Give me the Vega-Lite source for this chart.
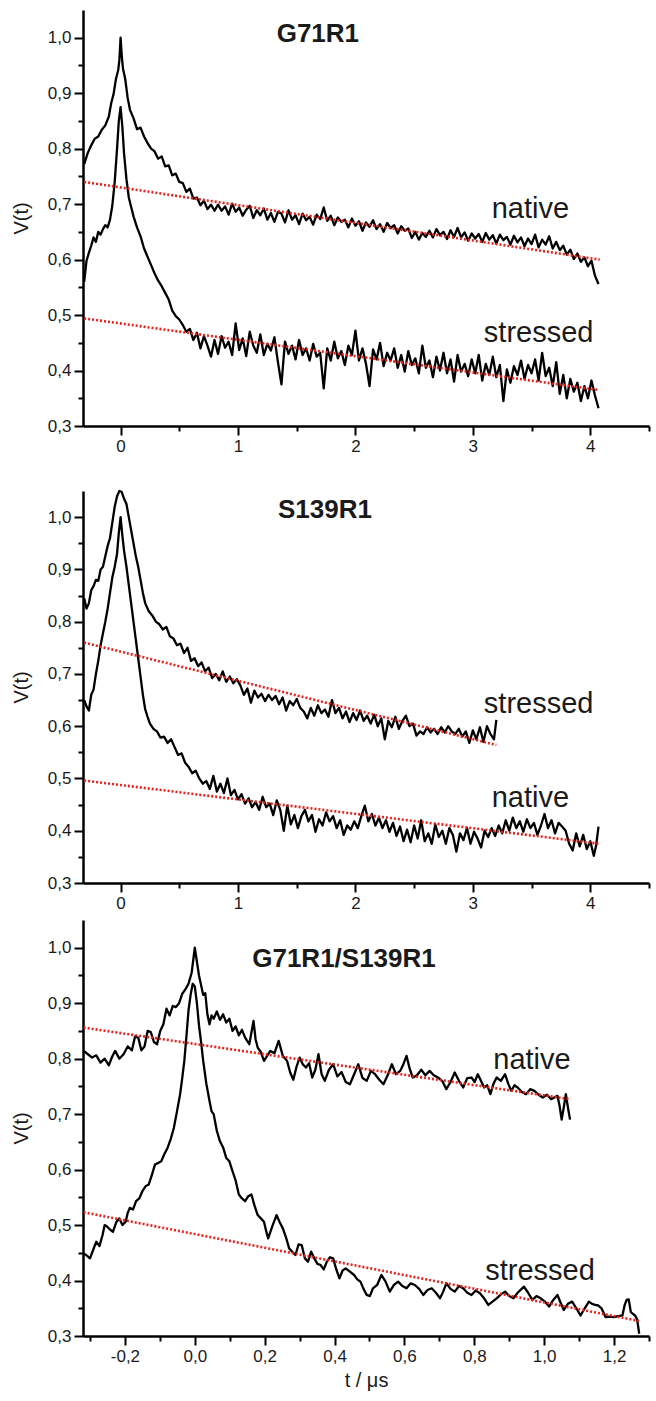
{
"$schema":"https://vega.github.io/schema/vega-lite/v6.json",
"background":"white",
"padding":{"left":11,"top":10,"right":2,"bottom":2},
"config":{
"view":{"stroke":null},
"axis":{"domainColor":"#000","domainWidth":2.5,"tickColor":"#000","tickWidth":2,"grid":false,"labelFont":"Liberation Sans","labelFontSize":17,"labelColor":"#1a1a1a","labelPadding":3,"titleFont":"Liberation Sans","titleFontSize":20,"titleFontWeight":"normal","titleColor":"#1a1a1a"},
"text":{"font":"Liberation Sans"}
},
"datasets":{
"p1n":[{"x":-0.31,"y":0.772},{"x":-0.28,"y":0.792},{"x":-0.25,"y":0.806},{"x":-0.22,"y":0.818},{"x":-0.19,"y":0.822},{"x":-0.16,"y":0.834},{"x":-0.13,"y":0.842},{"x":-0.1,"y":0.858},{"x":-0.08,"y":0.882},{"x":-0.06,"y":0.898},{"x":-0.04,"y":0.925},{"x":-0.02,"y":0.942},{"x":-0.01,"y":0.96},{"x":0,"y":1.0},{"x":0.01,"y":0.968},{"x":0.02,"y":0.945},{"x":0.04,"y":0.925},{"x":0.06,"y":0.892},{"x":0.08,"y":0.87},{"x":0.11,"y":0.855},{"x":0.14,"y":0.835},{"x":0.17,"y":0.838},{"x":0.2,"y":0.822},{"x":0.23,"y":0.81},{"x":0.26,"y":0.8},{"x":0.29,"y":0.795},{"x":0.32,"y":0.782},{"x":0.35,"y":0.786},{"x":0.38,"y":0.768},{"x":0.41,"y":0.77},{"x":0.44,"y":0.752},{"x":0.47,"y":0.755},{"x":0.5,"y":0.74},{"x":0.53,"y":0.738},{"x":0.56,"y":0.722},{"x":0.59,"y":0.728},{"x":0.62,"y":0.71},{"x":0.65,"y":0.712},{"x":0.68,"y":0.698},{"x":0.71,"y":0.706},{"x":0.74,"y":0.691},{"x":0.77,"y":0.699},{"x":0.8,"y":0.688},
{"x":0.83,"y":0.699},{"x":0.86,"y":0.688},{"x":0.89,"y":0.696},{"x":0.92,"y":0.681},{"x":0.95,"y":0.701},{"x":0.98,"y":0.686},{"x":1.01,"y":0.694},{"x":1.04,"y":0.679},{"x":1.07,"y":0.69},{"x":1.1,"y":0.697},{"x":1.13,"y":0.675},{"x":1.16,"y":0.689},{"x":1.19,"y":0.68},{"x":1.22,"y":0.692},{"x":1.25,"y":0.672},{"x":1.28,"y":0.684},{"x":1.31,"y":0.668},{"x":1.34,"y":0.686},{"x":1.37,"y":0.683},{"x":1.4,"y":0.667},{"x":1.43,"y":0.689},{"x":1.46,"y":0.672},{"x":1.49,"y":0.68},{"x":1.52,"y":0.664},{"x":1.55,"y":0.683},{"x":1.58,"y":0.671},{"x":1.61,"y":0.677},{"x":1.64,"y":0.663},{"x":1.67,"y":0.681},{"x":1.7,"y":0.673},{"x":1.73,"y":0.694},{"x":1.76,"y":0.67},{"x":1.79,"y":0.679},{"x":1.82,"y":0.662},{"x":1.85,"y":0.676},{"x":1.88,"y":0.668},{"x":1.91,"y":0.672},{"x":1.94,"y":0.658},{"x":1.97,"y":0.674},{"x":2.0,"y":0.661},{"x":2.03,"y":0.669},{"x":2.06,"y":0.652},{"x":2.09,"y":0.667},{"x":2.12,"y":0.659},{"x":2.15,"y":0.671},{"x":2.18,"y":0.655},{"x":2.21,"y":0.664},{"x":2.24,"y":0.65},{"x":2.27,"y":0.666},{"x":2.3,"y":0.657},{"x":2.33,"y":0.662},{"x":2.36,"y":0.647},{"x":2.39,"y":0.66},{"x":2.42,"y":0.652},{"x":2.45,"y":0.656},{"x":2.48,"y":0.639},{"x":2.51,"y":0.65},{"x":2.54,"y":0.636},{"x":2.57,"y":0.648},{"x":2.6,"y":0.641},{"x":2.63,"y":0.652},{"x":2.66,"y":0.64},{"x":2.69,"y":0.655},{"x":2.72,"y":0.644},{"x":2.75,"y":0.65},{"x":2.78,"y":0.637},{"x":2.81,"y":0.653},{"x":2.84,"y":0.641},{"x":2.87,"y":0.657},{"x":2.9,"y":0.64},{"x":2.93,"y":0.649},{"x":2.96,"y":0.634},{"x":2.99,"y":0.647},{"x":3.02,"y":0.638},{"x":3.05,"y":0.646},{"x":3.08,"y":0.632},{"x":3.11,"y":0.648},{"x":3.14,"y":0.636},{"x":3.17,"y":0.644},{"x":3.2,"y":0.629},{"x":3.23,"y":0.645},{"x":3.26,"y":0.635},{"x":3.29,"y":0.641},{"x":3.32,"y":0.627},{"x":3.35,"y":0.643},{"x":3.38,"y":0.631},{"x":3.41,"y":0.64},{"x":3.44,"y":0.624},{"x":3.47,"y":0.638},{"x":3.5,"y":0.628},{"x":3.53,"y":0.645},{"x":3.56,"y":0.622},{"x":3.59,"y":0.636},{"x":3.62,"y":0.627},{"x":3.65,"y":0.642},{"x":3.68,"y":0.62},{"x":3.71,"y":0.632},{"x":3.74,"y":0.617},{"x":3.77,"y":0.625},{"x":3.8,"y":0.609},{"x":3.83,"y":0.618},{"x":3.86,"y":0.601},{"x":3.89,"y":0.611},{"x":3.92,"y":0.596},{"x":3.95,"y":0.604},{"x":3.98,"y":0.588},{"x":4.01,"y":0.598},{"x":4.04,"y":0.571},{"x":4.07,"y":0.556}],
"p1s":[{"x":-0.31,"y":0.56},{"x":-0.29,"y":0.598},{"x":-0.27,"y":0.612},{"x":-0.25,"y":0.625},{"x":-0.23,"y":0.64},{"x":-0.21,"y":0.632},{"x":-0.19,"y":0.65},{"x":-0.17,"y":0.645},{"x":-0.15,"y":0.655},{"x":-0.13,"y":0.662},{"x":-0.11,"y":0.658},{"x":-0.09,"y":0.672},{"x":-0.07,"y":0.698},{"x":-0.05,"y":0.74},{"x":-0.03,"y":0.8},{"x":-0.015,"y":0.85},{"x":0,"y":0.875},{"x":0.015,"y":0.84},{"x":0.03,"y":0.79},{"x":0.05,"y":0.745},{"x":0.07,"y":0.712},{"x":0.09,"y":0.695},{"x":0.11,"y":0.678},{"x":0.14,"y":0.658},{"x":0.17,"y":0.642},{"x":0.2,"y":0.62},{"x":0.23,"y":0.605},{"x":0.26,"y":0.59},{"x":0.29,"y":0.575},{"x":0.32,"y":0.562},{"x":0.35,"y":0.552},{"x":0.38,"y":0.54},{"x":0.41,"y":0.528},{"x":0.44,"y":0.508},{"x":0.47,"y":0.498},{"x":0.5,"y":0.492},{"x":0.53,"y":0.482},{"x":0.56,"y":0.47},{"x":0.59,"y":0.475},{"x":0.62,"y":0.455},{"x":0.65,"y":0.468},{"x":0.68,"y":0.44},{"x":0.71,"y":0.462},{"x":0.74,"y":0.445},{"x":0.77,"y":0.425},{"x":0.8,"y":0.455},
{"x":0.83,"y":0.43},{"x":0.86,"y":0.462},{"x":0.89,"y":0.441},{"x":0.92,"y":0.452},{"x":0.95,"y":0.428},{"x":0.98,"y":0.485},{"x":1.01,"y":0.437},{"x":1.04,"y":0.458},{"x":1.07,"y":0.426},{"x":1.1,"y":0.47},{"x":1.13,"y":0.445},{"x":1.16,"y":0.432},{"x":1.19,"y":0.465},{"x":1.22,"y":0.428},{"x":1.25,"y":0.448},{"x":1.28,"y":0.436},{"x":1.31,"y":0.46},{"x":1.34,"y":0.415},{"x":1.37,"y":0.375},{"x":1.4,"y":0.452},{"x":1.43,"y":0.43},{"x":1.46,"y":0.445},{"x":1.49,"y":0.42},{"x":1.52,"y":0.455},{"x":1.55,"y":0.428},{"x":1.58,"y":0.44},{"x":1.61,"y":0.418},{"x":1.64,"y":0.448},{"x":1.67,"y":0.425},{"x":1.7,"y":0.432},{"x":1.73,"y":0.368},{"x":1.76,"y":0.44},{"x":1.79,"y":0.418},{"x":1.82,"y":0.452},{"x":1.85,"y":0.422},{"x":1.88,"y":0.435},{"x":1.91,"y":0.41},{"x":1.94,"y":0.445},{"x":1.97,"y":0.428},{"x":2.0,"y":0.472},{"x":2.03,"y":0.418},{"x":2.06,"y":0.44},{"x":2.09,"y":0.412},{"x":2.12,"y":0.372},{"x":2.15,"y":0.438},{"x":2.18,"y":0.42},{"x":2.21,"y":0.45},{"x":2.24,"y":0.408},{"x":2.27,"y":0.432},{"x":2.3,"y":0.418},{"x":2.33,"y":0.44},{"x":2.36,"y":0.405},{"x":2.39,"y":0.428},{"x":2.42,"y":0.398},{"x":2.45,"y":0.435},{"x":2.48,"y":0.41},{"x":2.51,"y":0.422},{"x":2.54,"y":0.395},{"x":2.57,"y":0.445},{"x":2.6,"y":0.405},{"x":2.63,"y":0.418},{"x":2.66,"y":0.388},{"x":2.69,"y":0.425},{"x":2.72,"y":0.4},{"x":2.75,"y":0.432},{"x":2.78,"y":0.395},{"x":2.81,"y":0.42},{"x":2.84,"y":0.38},{"x":2.87,"y":0.428},{"x":2.9,"y":0.398},{"x":2.93,"y":0.412},{"x":2.96,"y":0.39},{"x":2.99,"y":0.42},{"x":3.02,"y":0.395},{"x":3.05,"y":0.428},{"x":3.08,"y":0.382},{"x":3.11,"y":0.412},{"x":3.14,"y":0.392},{"x":3.17,"y":0.425},{"x":3.2,"y":0.388},{"x":3.23,"y":0.41},{"x":3.26,"y":0.345},{"x":3.29,"y":0.402},{"x":3.32,"y":0.378},{"x":3.35,"y":0.408},{"x":3.38,"y":0.392},{"x":3.41,"y":0.418},{"x":3.44,"y":0.385},{"x":3.47,"y":0.41},{"x":3.5,"y":0.395},{"x":3.53,"y":0.42},{"x":3.56,"y":0.382},{"x":3.59,"y":0.432},{"x":3.62,"y":0.39},{"x":3.65,"y":0.405},{"x":3.68,"y":0.372},{"x":3.71,"y":0.415},{"x":3.74,"y":0.358},{"x":3.77,"y":0.392},{"x":3.8,"y":0.35},{"x":3.83,"y":0.385},{"x":3.86,"y":0.362},{"x":3.89,"y":0.378},{"x":3.92,"y":0.345},{"x":3.95,"y":0.372},{"x":3.98,"y":0.35},{"x":4.01,"y":0.382},{"x":4.04,"y":0.355},{"x":4.07,"y":0.332}],
"p2s":[{"x":-0.31,"y":0.845},{"x":-0.29,"y":0.825},{"x":-0.27,"y":0.835},{"x":-0.25,"y":0.86},{"x":-0.23,"y":0.868},{"x":-0.21,"y":0.88},{"x":-0.19,"y":0.878},{"x":-0.17,"y":0.9},{"x":-0.15,"y":0.905},{"x":-0.13,"y":0.925},{"x":-0.11,"y":0.945},{"x":-0.09,"y":0.96},{"x":-0.07,"y":0.99},{"x":-0.05,"y":1.02},{"x":-0.03,"y":1.04},{"x":-0.01,"y":1.05},{"x":0.01,"y":1.048},{"x":0.03,"y":1.035},{"x":0.05,"y":1.025},{"x":0.07,"y":1.0},{"x":0.09,"y":0.975},{"x":0.11,"y":0.95},{"x":0.13,"y":0.925},{"x":0.15,"y":0.905},{"x":0.17,"y":0.88},{"x":0.19,"y":0.855},{"x":0.21,"y":0.835},{"x":0.24,"y":0.82},{"x":0.27,"y":0.812},{"x":0.3,"y":0.8},{"x":0.33,"y":0.795},{"x":0.36,"y":0.785},{"x":0.39,"y":0.79},{"x":0.42,"y":0.772},{"x":0.45,"y":0.768},{"x":0.48,"y":0.755},{"x":0.51,"y":0.758},{"x":0.54,"y":0.74},{"x":0.57,"y":0.75},{"x":0.6,"y":0.725},{"x":0.63,"y":0.73},{"x":0.66,"y":0.715},{"x":0.69,"y":0.722},{"x":0.72,"y":0.705},{"x":0.75,"y":0.712},{"x":0.78,"y":0.692},{"x":0.81,"y":0.7},{"x":0.84,"y":0.688},{"x":0.87,"y":0.705},{"x":0.9,"y":0.685},{"x":0.93,"y":0.695},{"x":0.96,"y":0.682},{"x":0.99,"y":0.69},{"x":1.02,"y":0.678},{"x":1.05,"y":0.66},{"x":1.08,"y":0.672},{"x":1.11,"y":0.645},{"x":1.14,"y":0.668},{"x":1.17,"y":0.655},{"x":1.2,"y":0.662},{"x":1.23,"y":0.648},{"x":1.26,"y":0.66},{"x":1.29,"y":0.65},{"x":1.32,"y":0.658},{"x":1.35,"y":0.642},{"x":1.38,"y":0.655},{"x":1.41,"y":0.63},{"x":1.44,"y":0.648},{"x":1.47,"y":0.64},{"x":1.5,"y":0.652},{"x":1.53,"y":0.635},{"x":1.56,"y":0.628},{"x":1.59,"y":0.615},{"x":1.62,"y":0.635},{"x":1.65,"y":0.62},{"x":1.68,"y":0.64},{"x":1.71,"y":0.625},{"x":1.74,"y":0.632},{"x":1.77,"y":0.618},{"x":1.8,"y":0.65},{"x":1.83,"y":0.625},{"x":1.86,"y":0.635},{"x":1.89,"y":0.615},{"x":1.92,"y":0.628},{"x":1.95,"y":0.608},{"x":1.98,"y":0.625},{"x":2.01,"y":0.612},{"x":2.04,"y":0.63},{"x":2.07,"y":0.61},{"x":2.1,"y":0.62},{"x":2.13,"y":0.605},{"x":2.16,"y":0.622},{"x":2.19,"y":0.6},{"x":2.22,"y":0.615},{"x":2.25,"y":0.575},{"x":2.28,"y":0.61},{"x":2.31,"y":0.598},{"x":2.34,"y":0.618},{"x":2.37,"y":0.595},{"x":2.4,"y":0.61},{"x":2.43,"y":0.62},{"x":2.46,"y":0.6},{"x":2.49,"y":0.605},{"x":2.52,"y":0.582},{"x":2.55,"y":0.59},{"x":2.58,"y":0.585},{"x":2.61,"y":0.598},{"x":2.64,"y":0.588},{"x":2.67,"y":0.595},{"x":2.7,"y":0.585},{"x":2.73,"y":0.598},{"x":2.76,"y":0.588},{"x":2.79,"y":0.6},{"x":2.82,"y":0.59},{"x":2.85,"y":0.585},{"x":2.88,"y":0.595},{"x":2.91,"y":0.58},{"x":2.94,"y":0.59},{"x":2.97,"y":0.568},{"x":3.0,"y":0.592},{"x":3.03,"y":0.575},{"x":3.06,"y":0.598},{"x":3.09,"y":0.57},{"x":3.12,"y":0.6},{"x":3.15,"y":0.585},{"x":3.18,"y":0.575},{"x":3.2,"y":0.612}],
"p2n":[{"x":-0.31,"y":0.65},{"x":-0.29,"y":0.638},{"x":-0.27,"y":0.63},{"x":-0.25,"y":0.66},{"x":-0.23,"y":0.67},{"x":-0.21,"y":0.7},{"x":-0.19,"y":0.725},{"x":-0.17,"y":0.755},{"x":-0.15,"y":0.778},{"x":-0.13,"y":0.8},{"x":-0.11,"y":0.825},{"x":-0.09,"y":0.855},{"x":-0.07,"y":0.885},{"x":-0.05,"y":0.905},{"x":-0.03,"y":0.93},{"x":-0.015,"y":0.97},{"x":0,"y":1.0},{"x":0.015,"y":0.965},{"x":0.03,"y":0.935},{"x":0.05,"y":0.905},{"x":0.07,"y":0.87},{"x":0.09,"y":0.835},{"x":0.11,"y":0.8},{"x":0.13,"y":0.765},{"x":0.15,"y":0.73},{"x":0.17,"y":0.695},{"x":0.19,"y":0.66},{"x":0.21,"y":0.632},{"x":0.23,"y":0.618},{"x":0.25,"y":0.605},{"x":0.28,"y":0.595},{"x":0.31,"y":0.59},{"x":0.34,"y":0.578},{"x":0.37,"y":0.58},{"x":0.4,"y":0.568},{"x":0.43,"y":0.575},{"x":0.46,"y":0.56},{"x":0.49,"y":0.545},{"x":0.52,"y":0.548},{"x":0.55,"y":0.53},{"x":0.58,"y":0.522},{"x":0.61,"y":0.51},{"x":0.64,"y":0.515},{"x":0.67,"y":0.5},{"x":0.7,"y":0.49},{"x":0.73,"y":0.495},{"x":0.76,"y":0.48},{"x":0.79,"y":0.505},{"x":0.82,"y":0.475},{"x":0.85,"y":0.49},{"x":0.88,"y":0.472},{"x":0.91,"y":0.5},{"x":0.94,"y":0.468},{"x":0.97,"y":0.478},{"x":1.0,"y":0.46},{"x":1.03,"y":0.47},{"x":1.06,"y":0.452},{"x":1.09,"y":0.462},{"x":1.12,"y":0.445},{"x":1.15,"y":0.455},{"x":1.18,"y":0.44},{"x":1.21,"y":0.465},{"x":1.24,"y":0.445},{"x":1.27,"y":0.452},{"x":1.3,"y":0.43},{"x":1.33,"y":0.458},{"x":1.36,"y":0.44},{"x":1.39,"y":0.4},{"x":1.42,"y":0.448},{"x":1.45,"y":0.412},{"x":1.48,"y":0.43},{"x":1.51,"y":0.405},{"x":1.54,"y":0.428},{"x":1.57,"y":0.44},{"x":1.6,"y":0.418},{"x":1.63,"y":0.43},{"x":1.66,"y":0.398},{"x":1.69,"y":0.422},{"x":1.72,"y":0.41},{"x":1.75,"y":0.435},{"x":1.78,"y":0.418},{"x":1.81,"y":0.428},{"x":1.84,"y":0.405},{"x":1.87,"y":0.42},{"x":1.9,"y":0.392},{"x":1.93,"y":0.41},{"x":1.96,"y":0.402},{"x":1.99,"y":0.418},{"x":2.02,"y":0.405},{"x":2.05,"y":0.428},{"x":2.08,"y":0.448},{"x":2.11,"y":0.418},{"x":2.14,"y":0.432},{"x":2.17,"y":0.41},{"x":2.2,"y":0.425},{"x":2.23,"y":0.405},{"x":2.26,"y":0.42},{"x":2.29,"y":0.398},{"x":2.32,"y":0.415},{"x":2.35,"y":0.39},{"x":2.38,"y":0.408},{"x":2.41,"y":0.38},{"x":2.44,"y":0.402},{"x":2.47,"y":0.378},{"x":2.5,"y":0.41},{"x":2.53,"y":0.385},{"x":2.56,"y":0.42},{"x":2.59,"y":0.38},{"x":2.62,"y":0.395},{"x":2.65,"y":0.375},{"x":2.68,"y":0.412},{"x":2.71,"y":0.388},{"x":2.74,"y":0.4},{"x":2.77,"y":0.375},{"x":2.8,"y":0.405},{"x":2.83,"y":0.392},{"x":2.86,"y":0.36},{"x":2.89,"y":0.395},{"x":2.92,"y":0.382},{"x":2.95,"y":0.405},{"x":2.98,"y":0.375},{"x":3.01,"y":0.398},{"x":3.04,"y":0.385},{"x":3.07,"y":0.368},{"x":3.1,"y":0.4},{"x":3.13,"y":0.388},{"x":3.16,"y":0.405},{"x":3.19,"y":0.39},{"x":3.22,"y":0.41},{"x":3.25,"y":0.395},{"x":3.28,"y":0.42},{"x":3.31,"y":0.4},{"x":3.34,"y":0.425},{"x":3.37,"y":0.405},{"x":3.4,"y":0.418},{"x":3.43,"y":0.398},{"x":3.46,"y":0.422},{"x":3.49,"y":0.405},{"x":3.52,"y":0.415},{"x":3.55,"y":0.392},{"x":3.58,"y":0.41},{"x":3.61,"y":0.432},{"x":3.64,"y":0.405},{"x":3.67,"y":0.42},{"x":3.7,"y":0.395},{"x":3.73,"y":0.415},{"x":3.76,"y":0.408},{"x":3.79,"y":0.4},{"x":3.82,"y":0.375},{"x":3.85,"y":0.362},{"x":3.88,"y":0.395},{"x":3.91,"y":0.37},{"x":3.94,"y":0.392},{"x":3.97,"y":0.365},{"x":4.0,"y":0.38},{"x":4.03,"y":0.352},{"x":4.05,"y":0.372},{"x":4.07,"y":0.408}],
"p3n":[{"x":-0.318,"y":0.814},{"x":-0.306,"y":0.808},{"x":-0.294,"y":0.802},{"x":-0.282,"y":0.806},{"x":-0.27,"y":0.793},{"x":-0.258,"y":0.8},{"x":-0.246,"y":0.788},{"x":-0.237,"y":0.803},{"x":-0.228,"y":0.814},{"x":-0.216,"y":0.8},{"x":-0.204,"y":0.808},{"x":-0.192,"y":0.822},{"x":-0.18,"y":0.815},{"x":-0.171,"y":0.84},{"x":-0.162,"y":0.838},{"x":-0.153,"y":0.815},{"x":-0.144,"y":0.822},{"x":-0.135,"y":0.85},{"x":-0.126,"y":0.848},{"x":-0.117,"y":0.83},{"x":-0.108,"y":0.826},{"x":-0.099,"y":0.85},{"x":-0.09,"y":0.862},{"x":-0.081,"y":0.89},{"x":-0.072,"y":0.878},{"x":-0.063,"y":0.895},{"x":-0.054,"y":0.893},{"x":-0.045,"y":0.9},{"x":-0.036,"y":0.917},{"x":-0.027,"y":0.925},{"x":-0.018,"y":0.935},{"x":-0.009,"y":0.955},{"x":0,"y":1.0},{"x":0.012,"y":0.95},{"x":0.024,"y":0.915},{"x":0.03,"y":0.918},{"x":0.036,"y":0.88},{"x":0.042,"y":0.862},{"x":0.048,"y":0.878},{"x":0.054,"y":0.872},{"x":0.063,"y":0.885},{"x":0.072,"y":0.87},{"x":0.081,"y":0.88},{"x":0.09,"y":0.865},{"x":0.099,"y":0.872},{"x":0.108,"y":0.85},{"x":0.117,"y":0.858},{"x":0.126,"y":0.842},{"x":0.135,"y":0.852},{"x":0.144,"y":0.838},{"x":0.156,"y":0.826},{"x":0.168,"y":0.868},{"x":0.174,"y":0.835},{"x":0.18,"y":0.82},{"x":0.189,"y":0.812},{"x":0.198,"y":0.796},{"x":0.207,"y":0.805},{"x":0.216,"y":0.814},{"x":0.228,"y":0.81},{"x":0.24,"y":0.832},{"x":0.252,"y":0.805},{"x":0.264,"y":0.796},{"x":0.273,"y":0.775},{"x":0.282,"y":0.762},{"x":0.291,"y":0.785},{"x":0.3,"y":0.802},{"x":0.309,"y":0.79},{"x":0.318,"y":0.784},{"x":0.327,"y":0.792},{"x":0.336,"y":0.766},{"x":0.345,"y":0.78},{"x":0.354,"y":0.808},{"x":0.363,"y":0.772},{"x":0.372,"y":0.76},{"x":0.384,"y":0.78},{"x":0.396,"y":0.79},{"x":0.408,"y":0.768},{"x":0.42,"y":0.776},{"x":0.432,"y":0.758},{"x":0.444,"y":0.754},{"x":0.456,"y":0.772},{"x":0.468,"y":0.79},{"x":0.48,"y":0.765},{"x":0.492,"y":0.76},{"x":0.504,"y":0.778},{"x":0.516,"y":0.772},{"x":0.528,"y":0.762},{"x":0.54,"y":0.754},{"x":0.552,"y":0.77},{"x":0.564,"y":0.79},{"x":0.576,"y":0.772},{"x":0.588,"y":0.778},{"x":0.597,"y":0.79},{"x":0.606,"y":0.805},{"x":0.615,"y":0.782},{"x":0.624,"y":0.766},{"x":0.636,"y":0.77},{"x":0.648,"y":0.78},{"x":0.66,"y":0.77},{"x":0.672,"y":0.778},{"x":0.684,"y":0.77},{"x":0.696,"y":0.766},{"x":0.708,"y":0.76},{"x":0.72,"y":0.745},{"x":0.732,"y":0.758},{"x":0.744,"y":0.775},{"x":0.756,"y":0.76},{"x":0.768,"y":0.748},{"x":0.78,"y":0.765},{"x":0.792,"y":0.766},{"x":0.801,"y":0.758},{"x":0.81,"y":0.772},{"x":0.819,"y":0.76},{"x":0.828,"y":0.748},{"x":0.837,"y":0.752},{"x":0.846,"y":0.736},{"x":0.855,"y":0.755},{"x":0.864,"y":0.766},{"x":0.876,"y":0.76},{"x":0.888,"y":0.772},{"x":0.897,"y":0.755},{"x":0.906,"y":0.742},{"x":0.915,"y":0.752},{"x":0.924,"y":0.748},{"x":0.936,"y":0.74},{"x":0.948,"y":0.736},{"x":0.96,"y":0.745},{"x":0.972,"y":0.742},{"x":0.984,"y":0.735},{"x":0.996,"y":0.73},{"x":1.008,"y":0.735},{"x":1.02,"y":0.727},{"x":1.029,"y":0.73},{"x":1.038,"y":0.733},{"x":1.044,"y":0.715},{"x":1.05,"y":0.69},{"x":1.056,"y":0.712},{"x":1.062,"y":0.736},{"x":1.068,"y":0.712},{"x":1.074,"y":0.69}],
"p3s":[{"x":-0.318,"y":0.449},{"x":-0.309,"y":0.445},{"x":-0.3,"y":0.44},{"x":-0.291,"y":0.455},{"x":-0.282,"y":0.47},{"x":-0.273,"y":0.462},{"x":-0.264,"y":0.482},{"x":-0.258,"y":0.5},{"x":-0.252,"y":0.498},{"x":-0.243,"y":0.492},{"x":-0.234,"y":0.488},{"x":-0.225,"y":0.505},{"x":-0.216,"y":0.512},{"x":-0.207,"y":0.5},{"x":-0.198,"y":0.506},{"x":-0.192,"y":0.522},{"x":-0.186,"y":0.531},{"x":-0.177,"y":0.528},{"x":-0.168,"y":0.543},{"x":-0.159,"y":0.548},{"x":-0.15,"y":0.561},{"x":-0.141,"y":0.57},{"x":-0.132,"y":0.573},{"x":-0.123,"y":0.59},{"x":-0.114,"y":0.609},{"x":-0.105,"y":0.612},{"x":-0.096,"y":0.615},{"x":-0.087,"y":0.628},{"x":-0.078,"y":0.639},{"x":-0.069,"y":0.655},{"x":-0.06,"y":0.675},{"x":-0.051,"y":0.705},{"x":-0.042,"y":0.736},{"x":-0.036,"y":0.765},{"x":-0.03,"y":0.796},{"x":-0.024,"y":0.84},{"x":-0.018,"y":0.887},{"x":-0.012,"y":0.915},{"x":-0.006,"y":0.935},{"x":0,"y":0.93},{"x":0.006,"y":0.9},{"x":0.012,"y":0.86},{"x":0.018,"y":0.83},{"x":0.024,"y":0.796},{"x":0.033,"y":0.755},{"x":0.042,"y":0.724},{"x":0.048,"y":0.705},{"x":0.054,"y":0.7},{"x":0.063,"y":0.67},{"x":0.072,"y":0.651},{"x":0.081,"y":0.64},{"x":0.09,"y":0.621},{"x":0.099,"y":0.615},{"x":0.108,"y":0.597},{"x":0.117,"y":0.58},{"x":0.126,"y":0.555},{"x":0.135,"y":0.548},{"x":0.144,"y":0.543},{"x":0.153,"y":0.552},{"x":0.162,"y":0.555},{"x":0.171,"y":0.535},{"x":0.18,"y":0.518},{"x":0.189,"y":0.512},{"x":0.198,"y":0.506},{"x":0.204,"y":0.49},{"x":0.21,"y":0.476},{"x":0.222,"y":0.498},{"x":0.234,"y":0.518},{"x":0.243,"y":0.505},{"x":0.252,"y":0.494},{"x":0.261,"y":0.478},{"x":0.27,"y":0.458},{"x":0.279,"y":0.452},{"x":0.288,"y":0.446},{"x":0.297,"y":0.465},{"x":0.306,"y":0.464},{"x":0.315,"y":0.44},{"x":0.324,"y":0.434},{"x":0.333,"y":0.452},{"x":0.342,"y":0.44},{"x":0.351,"y":0.43},{"x":0.36,"y":0.428},{"x":0.369,"y":0.42},{"x":0.378,"y":0.434},{"x":0.387,"y":0.442},{"x":0.396,"y":0.44},{"x":0.405,"y":0.42},{"x":0.414,"y":0.404},{"x":0.423,"y":0.418},{"x":0.432,"y":0.422},{"x":0.444,"y":0.416},{"x":0.456,"y":0.41},{"x":0.465,"y":0.402},{"x":0.474,"y":0.398},{"x":0.483,"y":0.385},{"x":0.492,"y":0.374},{"x":0.501,"y":0.372},{"x":0.51,"y":0.386},{"x":0.522,"y":0.392},{"x":0.534,"y":0.41},{"x":0.546,"y":0.398},{"x":0.558,"y":0.38},{"x":0.57,"y":0.392},{"x":0.582,"y":0.398},{"x":0.594,"y":0.39},{"x":0.606,"y":0.386},{"x":0.618,"y":0.395},{"x":0.63,"y":0.392},{"x":0.642,"y":0.385},{"x":0.654,"y":0.374},{"x":0.666,"y":0.383},{"x":0.678,"y":0.386},{"x":0.69,"y":0.378},{"x":0.702,"y":0.368},{"x":0.711,"y":0.38},{"x":0.72,"y":0.395},{"x":0.732,"y":0.385},{"x":0.744,"y":0.38},{"x":0.756,"y":0.39},{"x":0.768,"y":0.386},{"x":0.78,"y":0.378},{"x":0.792,"y":0.374},{"x":0.804,"y":0.382},{"x":0.816,"y":0.377},{"x":0.828,"y":0.368},{"x":0.84,"y":0.356},{"x":0.852,"y":0.362},{"x":0.864,"y":0.368},{"x":0.876,"y":0.375},{"x":0.888,"y":0.38},{"x":0.9,"y":0.372},{"x":0.912,"y":0.368},{"x":0.924,"y":0.378},{"x":0.942,"y":0.389},{"x":0.954,"y":0.378},{"x":0.966,"y":0.365},{"x":0.978,"y":0.372},{"x":0.99,"y":0.368},{"x":1.002,"y":0.362},{"x":1.014,"y":0.353},{"x":1.026,"y":0.365},{"x":1.038,"y":0.374},{"x":1.047,"y":0.36},{"x":1.056,"y":0.347},{"x":1.068,"y":0.358},{"x":1.08,"y":0.362},{"x":1.092,"y":0.35},{"x":1.104,"y":0.337},{"x":1.116,"y":0.35},{"x":1.128,"y":0.362},{"x":1.137,"y":0.358},{"x":1.146,"y":0.356},{"x":1.155,"y":0.355},{"x":1.164,"y":0.35},{"x":1.176,"y":0.334},{"x":1.188,"y":0.335},{"x":1.2,"y":0.334},{"x":1.212,"y":0.336},{"x":1.224,"y":0.337},{"x":1.23,"y":0.355},{"x":1.236,"y":0.365},{"x":1.242,"y":0.366},{"x":1.248,"y":0.343},{"x":1.254,"y":0.34},{"x":1.26,"y":0.337},{"x":1.266,"y":0.33},{"x":1.272,"y":0.304}],
"fits":[{"panel":1,"s":"native","x":-0.31,"y":0.74},{"panel":1,"s":"native","x":4.08,"y":0.6},{"panel":1,"s":"stressed","x":-0.31,"y":0.494},{"panel":1,"s":"stressed","x":4.07,"y":0.365},{"panel":2,"s":"stressed","x":-0.31,"y":0.76},{"panel":2,"s":"stressed","x":3.2,"y":0.564},{"panel":2,"s":"native","x":-0.31,"y":0.496},{"panel":2,"s":"native","x":4.08,"y":0.375},{"panel":3,"s":"native","x":-0.318,"y":0.856},{"panel":3,"s":"native","x":1.074,"y":0.727},{"panel":3,"s":"stressed","x":-0.318,"y":0.523},{"panel":3,"s":"stressed","x":1.272,"y":0.327}],
"labels":[{"panel":1,"t":"native","x":3.49,"y":0.692},{"panel":1,"t":"stressed","x":3.56,"y":0.467},{"panel":2,"t":"stressed","x":3.56,"y":0.643},{"panel":2,"t":"native","x":3.49,"y":0.462},{"panel":3,"t":"native","x":0.965,"y":0.797},{"panel":3,"t":"stressed","x":0.988,"y":0.418}],
"titles":[{"panel":1,"t":"G71R1","x":1.68,"y":1.006},{"panel":2,"t":"S139R1","x":1.74,"y":1.013},{"panel":3,"t":"G71R1/S139R1","x":0.427,"y":0.979}]
},
"spacing":35,
"vconcat":[
{
"width":566,"height":416,
"encoding":{
"x":{"field":"x","type":"quantitative","scale":{"domain":[-0.32,4.5],"nice":false,"zero":false},"axis":{"title":null,"values":[0,0.5,1,1.5,2,2.5,3,3.5,4,4.5],"labelExpr":"datum.value % 1 == 0 ? format(datum.value,'d') : ''","tickSize":{"condition":{"test":"datum.value % 1 == 0","value":9},"value":5},"labelOverlap":false,"labelFlush":false}},
"y":{"field":"y","type":"quantitative","scale":{"domain":[0.3,1.05],"nice":false,"zero":false},"axis":{"title":"V(t)","titlePadding":16,"values":[0.3,0.35,0.4,0.45,0.5,0.55,0.6,0.65,0.7,0.75,0.8,0.85,0.9,0.95,1.0],"labelExpr":"abs(datum.value*10-round(datum.value*10))<0.01 ? replace(format(datum.value,'.1f'),'.',',') : ''","tickSize":{"condition":{"test":"abs(datum.value*10-round(datum.value*10))<0.01","value":9},"value":5},"labelOverlap":false}}
},
"layer":[
{"data":{"name":"p1n"},"mark":{"type":"line","color":"#000","strokeWidth":2.3,"strokeJoin":"round"}},
{"data":{"name":"p1s"},"mark":{"type":"line","color":"#000","strokeWidth":2.3,"strokeJoin":"round"}},
{"data":{"name":"fits"},"transform":[{"filter":{"field":"panel","equal":1}}],"mark":{"type":"line","color":"#e8221c","strokeWidth":2.6,"strokeDash":[2,2]},"encoding":{"detail":{"field":"s"}}},
{"data":{"name":"labels"},"transform":[{"filter":{"field":"panel","equal":1}}],"mark":{"type":"text","fontSize":29,"color":"#1a1a1a","align":"center","baseline":"middle"},"encoding":{"text":{"field":"t"}}},
{"data":{"name":"titles"},"transform":[{"filter":{"field":"panel","equal":1}}],"mark":{"type":"text","fontSize":26,"fontWeight":"bold","color":"#1a1a1a","align":"center","baseline":"middle"},"encoding":{"text":{"field":"t"}}}
]
},
{
"spacing":9,
"vconcat":[
{
"width":566,"height":392,
"encoding":{
"x":{"field":"x","type":"quantitative","scale":{"domain":[-0.32,4.5],"nice":false,"zero":false},"axis":{"title":null,"values":[0,0.5,1,1.5,2,2.5,3,3.5,4,4.5],"labelExpr":"datum.value % 1 == 0 ? format(datum.value,'d') : ''","tickSize":{"condition":{"test":"datum.value % 1 == 0","value":9},"value":5},"labelOverlap":false,"labelFlush":false}},
"y":{"field":"y","type":"quantitative","scale":{"domain":[0.3,1.05],"nice":false,"zero":false},"axis":{"title":"V(t)","titlePadding":16,"values":[0.3,0.35,0.4,0.45,0.5,0.55,0.6,0.65,0.7,0.75,0.8,0.85,0.9,0.95,1.0],"labelExpr":"abs(datum.value*10-round(datum.value*10))<0.01 ? replace(format(datum.value,'.1f'),'.',',') : ''","tickSize":{"condition":{"test":"abs(datum.value*10-round(datum.value*10))<0.01","value":9},"value":5},"labelOverlap":false}}
},
"layer":[
{"data":{"name":"p2s"},"mark":{"type":"line","color":"#000","strokeWidth":2.3,"strokeJoin":"round"}},
{"data":{"name":"p2n"},"mark":{"type":"line","color":"#000","strokeWidth":2.3,"strokeJoin":"round"}},
{"data":{"name":"fits"},"transform":[{"filter":{"field":"panel","equal":2}}],"mark":{"type":"line","color":"#e8221c","strokeWidth":2.6,"strokeDash":[2,2]},"encoding":{"detail":{"field":"s"}}},
{"data":{"name":"labels"},"transform":[{"filter":{"field":"panel","equal":2}}],"mark":{"type":"text","fontSize":29,"color":"#1a1a1a","align":"center","baseline":"middle"},"encoding":{"text":{"field":"t"}}},
{"data":{"name":"titles"},"transform":[{"filter":{"field":"panel","equal":2}}],"mark":{"type":"text","fontSize":26,"fontWeight":"bold","color":"#1a1a1a","align":"center","baseline":"middle"},"encoding":{"text":{"field":"t"}}}
]
},
{
"width":566,"height":416,
"encoding":{
"x":{"field":"x","type":"quantitative","scale":{"domain":[-0.32,1.3],"nice":false,"zero":false},"axis":{"title":"t / μs","titlePadding":6,"values":[-0.3,-0.2,-0.1,0,0.1,0.2,0.3,0.4,0.5,0.6,0.7,0.8,0.9,1.0,1.1,1.2,1.3],"labelExpr":"abs(datum.value*5-round(datum.value*5))<0.01 ? replace(replace(format(datum.value,'.1f'),'.',','),'\u2212','-') : ''","tickSize":{"condition":{"test":"abs(datum.value*5-round(datum.value*5))<0.01","value":9},"value":5},"labelOverlap":false,"labelFlush":false}},
"y":{"field":"y","type":"quantitative","scale":{"domain":[0.3,1.05],"nice":false,"zero":false},"axis":{"title":"V(t)","titlePadding":16,"values":[0.3,0.35,0.4,0.45,0.5,0.55,0.6,0.65,0.7,0.75,0.8,0.85,0.9,0.95,1.0],"labelExpr":"abs(datum.value*10-round(datum.value*10))<0.01 ? replace(format(datum.value,'.1f'),'.',',') : ''","tickSize":{"condition":{"test":"abs(datum.value*10-round(datum.value*10))<0.01","value":9},"value":5},"labelOverlap":false}}
},
"layer":[
{"data":{"name":"p3n"},"mark":{"type":"line","color":"#000","strokeWidth":2.3,"strokeJoin":"round"}},
{"data":{"name":"p3s"},"mark":{"type":"line","color":"#000","strokeWidth":2.3,"strokeJoin":"round"}},
{"data":{"name":"fits"},"transform":[{"filter":{"field":"panel","equal":3}}],"mark":{"type":"line","color":"#e8221c","strokeWidth":2.6,"strokeDash":[2,2]},"encoding":{"detail":{"field":"s"}}},
{"data":{"name":"labels"},"transform":[{"filter":{"field":"panel","equal":3}}],"mark":{"type":"text","fontSize":29,"color":"#1a1a1a","align":"center","baseline":"middle"},"encoding":{"text":{"field":"t"}}},
{"data":{"name":"titles"},"transform":[{"filter":{"field":"panel","equal":3}}],"mark":{"type":"text","fontSize":26,"fontWeight":"bold","color":"#1a1a1a","align":"center","baseline":"middle"},"encoding":{"text":{"field":"t"}}}
]
}
]
}
]
}
